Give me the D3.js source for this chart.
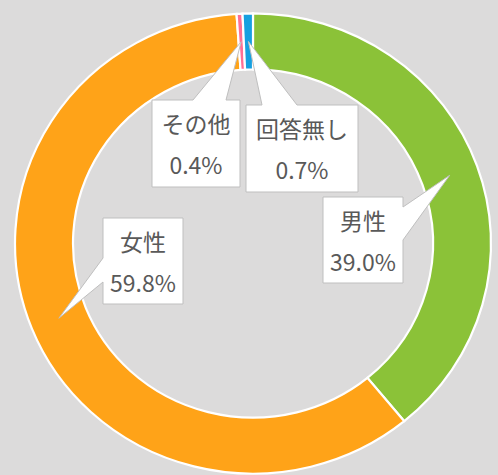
<!DOCTYPE html>
<html><head><meta charset="utf-8">
<script src="https://cdn.jsdelivr.net/npm/d3@7"></script>
<style>
html,body{margin:0;padding:0;background:#dcdbdb;}
svg{display:block;}
</style></head>
<body>
<svg id="chart" width="498" height="475"></svg>
<script>
// ---- data ----
const categories = ["男性", "女性", "その他", "回答無し"];
const values = [39.0, 59.8, 0.4, 0.7];
const colors = ["#8bc238", "#ffa318", "#ff6f94", "#16a0e0"];

// ---- layout ----
const W = 498, H = 475;
const cx = 253, cy = 243.5, R = 238, r = 180, sy = 0.967;
const boxes = [
  {x: 323, y: 197, w: 80, h: 86, side: "right", a: 207, b: 240},
  {x: 103, y: 218, w: 80, h: 86, side: "left",  a: 258, b: 282},
  {x: 152, y: 100, w: 88, h: 87, side: "top",   a: 193, b: 226},
  {x: 246, y: 105, w: 112, h: 87, side: "top",  a: 262, b: 297}
];

const svg = d3.select("#chart");
svg.append("rect").attr("width", W).attr("height", H).attr("fill", "#dcdbdb");

const pie = d3.pie().sort(null).value(d => d);
const arcs = pie(values);
const arc = d3.arc().innerRadius(r).outerRadius(R);
const mid = d3.arc().innerRadius((r + R) / 2).outerRadius((r + R) / 2);

const g = svg.append("g").attr("transform", `translate(${cx},${cy}) scale(1,${sy})`);
g.selectAll("path").data(arcs).join("path")
  .attr("d", arc)
  .attr("fill", (d, i) => colors[i])
  .attr("stroke", "#ffffff")
  .attr("stroke-width", 2.2)
  .attr("vector-effect", "non-scaling-stroke");

function calloutPath(bx, tip) {
  const {x, y, w, h, side, a, b} = bx;
  const p = d3.path();
  p.moveTo(x, y);
  if (side === "top") { p.lineTo(a, y); p.lineTo(tip[0], tip[1]); p.lineTo(b, y); }
  p.lineTo(x + w, y);
  if (side === "right") { p.lineTo(x + w, a); p.lineTo(tip[0], tip[1]); p.lineTo(x + w, b); }
  p.lineTo(x + w, y + h);
  p.lineTo(x, y + h);
  if (side === "left") { p.lineTo(x, b); p.lineTo(tip[0], tip[1]); p.lineTo(x, a); }
  p.closePath();
  return p.toString();
}

const labels = svg.append("g");
arcs.forEach((d, i) => {
  const c = mid.centroid(d);
  const tip = [cx + c[0], cy + c[1] * sy];
  const bx = boxes[i];
  labels.append("path")
    .attr("d", calloutPath(bx, tip))
    .attr("fill", "#ffffff")
    .attr("stroke", "#bfbfbf")
    .attr("stroke-width", 1);
  const tx = bx.x + bx.w / 2;
  labels.append("text")
    .attr("x", tx).attr("y", bx.y + 33)
    .attr("text-anchor", "middle")
    .attr("font-family", "'Noto Sans CJK JP', sans-serif")
    .attr("font-size", 23)
    .attr("fill", "#595959")
    .text(categories[i]);
  labels.append("text")
    .attr("x", tx).attr("y", bx.y + 74)
    .attr("text-anchor", "middle")
    .attr("font-family", "'Noto Sans CJK JP', sans-serif")
    .attr("font-size", 23)
    .attr("fill", "#595959")
    .text(values[i].toFixed(1) + "%");
});
</script>
</body></html>
